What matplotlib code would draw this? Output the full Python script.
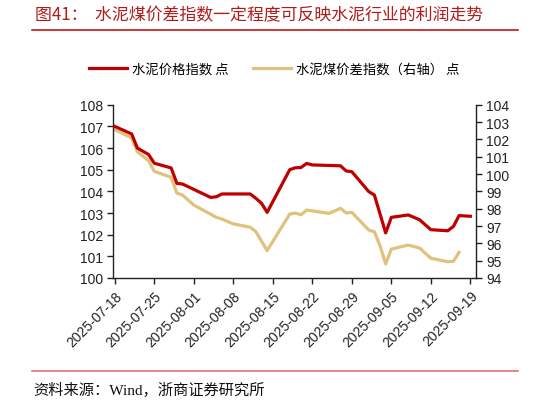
import matplotlib
matplotlib.use("Agg")
import matplotlib.pyplot as plt
import matplotlib.dates as mdates
import pandas as pd

plt.rcParams['font.family'] = ['Liberation Sans', 'Noto Sans CJK SC', 'DejaVu Sans']

title = "图41：  水泥煤价差指数一定程度可反映水泥行业的利润走势"
source = "资料来源：Wind，浙商证券研究所"
name_red = "水泥价格指数 点"
name_gold = "水泥煤价差指数（右轴） 点"

red_dates = ["2025-07-18", "2025-07-21", "2025-07-22", "2025-07-24", "2025-07-25",
             "2025-07-28", "2025-07-29", "2025-07-30", "2025-08-04", "2025-08-05",
             "2025-08-06", "2025-08-11", "2025-08-12", "2025-08-13", "2025-08-14",
             "2025-08-18", "2025-08-19", "2025-08-20", "2025-08-21", "2025-08-22",
             "2025-08-27", "2025-08-28", "2025-08-29", "2025-09-01", "2025-09-02",
             "2025-09-04", "2025-09-05", "2025-09-08", "2025-09-10", "2025-09-12",
             "2025-09-15", "2025-09-16", "2025-09-17", "2025-09-19"]
red_vals = [107.0, 106.65, 106.0, 105.7, 105.3,
            105.08, 104.37, 104.34, 103.72, 103.75,
            103.88, 103.88, 103.68, 103.45, 103.03,
            105.0, 105.09, 105.1, 105.29, 105.22,
            105.18, 104.94, 104.91, 103.99, 103.83,
            102.08, 102.8, 102.91, 102.69, 102.23,
            102.18, 102.38, 102.88, 102.85]

gold_dates = ["2025-07-18", "2025-07-21", "2025-07-22", "2025-07-24", "2025-07-25",
              "2025-07-28", "2025-07-29", "2025-07-30", "2025-08-01", "2025-08-05",
              "2025-08-06", "2025-08-08", "2025-08-11", "2025-08-12", "2025-08-14",
              "2025-08-18", "2025-08-19", "2025-08-20", "2025-08-21", "2025-08-25",
              "2025-08-27", "2025-08-28", "2025-08-29", "2025-09-01", "2025-09-02",
              "2025-09-03", "2025-09-04", "2025-09-05", "2025-09-08", "2025-09-10",
              "2025-09-12", "2025-09-15", "2025-09-16", "2025-09-17"]
gold_vals = [102.56, 102.08, 101.29, 100.77, 100.16,
             99.81, 98.9, 98.79, 98.21, 97.5,
             97.4, 97.12, 96.93, 96.68, 95.58,
             97.69, 97.75, 97.65, 97.92, 97.73,
             98.02, 97.75, 97.79, 96.77, 96.67,
             95.86, 94.81, 95.67, 95.9, 95.73,
             95.14, 94.94, 94.96, 95.48]

tick_dates = ["2025-07-18", "2025-07-25", "2025-08-01", "2025-08-08", "2025-08-15",
              "2025-08-22", "2025-08-29", "2025-09-05", "2025-09-12", "2025-09-19"]

RED = "#C00000"
GOLD = "#DFC27C"

fig = plt.figure(figsize=(5.48, 4.02), dpi=100)
ax = fig.add_axes([0.2068, 0.306, 0.6618, 0.431])
ax2 = ax.twinx()

l1, = ax.plot(pd.to_datetime(red_dates), red_vals, color=RED, lw=2.3, zorder=3)
l2, = ax2.plot(pd.to_datetime(gold_dates), gold_vals, color=GOLD, lw=2.3, zorder=2)
ax.set_zorder(ax2.get_zorder() + 1)
ax.patch.set_visible(False)

ax.set_ylim(100, 108)
ax.set_yticks(range(100, 109))
ax2.set_ylim(94, 104)
ax2.set_yticks(range(94, 105))
ax.set_xlim(pd.Timestamp("2025-07-18") - pd.Timedelta(hours=6), pd.Timestamp("2025-09-20"))
ax.set_xticks(pd.to_datetime(tick_dates))
ax.xaxis.set_major_formatter(mdates.DateFormatter("%Y-%m-%d"))

for a in (ax, ax2):
    a.spines['top'].set_visible(False)
    for s in a.spines.values():
        s.set_linewidth(1.0)
        s.set_color("#222222")
    a.tick_params(direction='out', length=4, width=1.0, labelsize=10, colors="#222222")
ax.spines['right'].set_visible(False)
ax2.spines['left'].set_visible(False)
ax2.spines['bottom'].set_visible(False)
for lab in ax.get_xticklabels():
    lab.set_rotation(45)
    lab.set_ha('right')
    lab.set_rotation_mode('anchor')

cjk = ['Noto Sans CJK SC', 'DejaVu Sans']
fig.legend([l1, l2], [name_red, name_gold], loc='center', bbox_to_anchor=(0.5, 0.826),
           ncol=2, frameon=False, handlelength=2.9, handletextpad=0.35, columnspacing=1.8,
           prop={'family': cjk, 'size': 9.6})

fig.text(35 / 548, 1 - 15 / 402, title, color="#B01C1C", fontsize=12.2, family=cjk,
         ha='left', va='center')
fig.add_artist(plt.Line2D([32 / 548, 518 / 548], [1 - 31 / 402, 1 - 31 / 402],
                          color="#C00000", lw=1.1, transform=fig.transFigure))
fig.add_artist(plt.Line2D([32 / 548, 518 / 548], [1 - 371.5 / 402, 1 - 371.5 / 402],
                          color="#E06666", lw=1.1, transform=fig.transFigure))
fig.text(33 / 548, 1 - 390 / 402, source, color="#111111", fontsize=11,
         family=['Liberation Serif', 'Noto Sans CJK SC'], ha='left', va='center')

fig.savefig("out.png", dpi=100)
